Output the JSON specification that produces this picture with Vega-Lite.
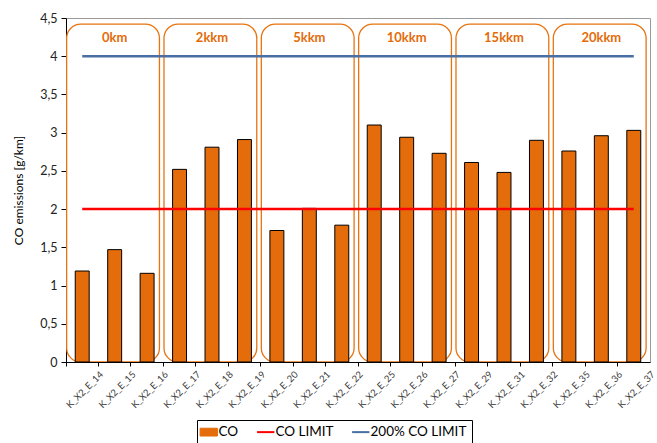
{
  "$schema": "https://vega.github.io/schema/vega-lite/v6.json",
  "width": 584,
  "height": 344,
  "autosize": {"type": "none"},
  "padding": {"left": 66, "top": 18, "right": 7, "bottom": 81},
  "background": "white",
  "config": {
    "font": "Lato",
    "view": {"stroke": "#9a9a9a", "strokeWidth": 1},
    "axis": {"labelFont": "Lato", "titleFont": "Lato"},
    "axisY": {"tickCount": 10},
    "legend": {"labelFont": "Lato"}
  },
  "datasets": {
    "co": [
      {"test": "K_X2_E_14", "co": 1.19, "series": "CO"},
      {"test": "K_X2_E_15", "co": 1.47, "series": "CO"},
      {"test": "K_X2_E_16", "co": 1.16, "series": "CO"},
      {"test": "K_X2_E_17", "co": 2.52, "series": "CO"},
      {"test": "K_X2_E_18", "co": 2.81, "series": "CO"},
      {"test": "K_X2_E_19", "co": 2.91, "series": "CO"},
      {"test": "K_X2_E_20", "co": 1.72, "series": "CO"},
      {"test": "K_X2_E_21", "co": 2.01, "series": "CO"},
      {"test": "K_X2_E_22", "co": 1.79, "series": "CO"},
      {"test": "K_X2_E_25", "co": 3.1, "series": "CO"},
      {"test": "K_X2_E_26", "co": 2.94, "series": "CO"},
      {"test": "K_X2_E_27", "co": 2.73, "series": "CO"},
      {"test": "K_X2_E_29", "co": 2.61, "series": "CO"},
      {"test": "K_X2_E_31", "co": 2.48, "series": "CO"},
      {"test": "K_X2_E_32", "co": 2.9, "series": "CO"},
      {"test": "K_X2_E_35", "co": 2.76, "series": "CO"},
      {"test": "K_X2_E_36", "co": 2.96, "series": "CO"},
      {"test": "K_X2_E_37", "co": 3.03, "series": "CO"}
    ],
    "limits": [
      {"series": "CO LIMIT", "value": 2, "from": "K_X2_E_14", "to": "K_X2_E_37"},
      {"series": "200% CO LIMIT", "value": 4, "from": "K_X2_E_14", "to": "K_X2_E_37"}
    ],
    "groups": [
      {"grp": "0km", "start": "K_X2_E_14", "mid": "K_X2_E_15", "end": "K_X2_E_16"},
      {"grp": "2kkm", "start": "K_X2_E_17", "mid": "K_X2_E_18", "end": "K_X2_E_19"},
      {"grp": "5kkm", "start": "K_X2_E_20", "mid": "K_X2_E_21", "end": "K_X2_E_22"},
      {"grp": "10kkm", "start": "K_X2_E_25", "mid": "K_X2_E_26", "end": "K_X2_E_27"},
      {"grp": "15kkm", "start": "K_X2_E_29", "mid": "K_X2_E_31", "end": "K_X2_E_32"},
      {"grp": "20kkm", "start": "K_X2_E_35", "mid": "K_X2_E_36", "end": "K_X2_E_37"}
    ]
  },
  "layer": [
    {
      "data": {"name": "groups"},
      "mark": {"type": "rect", "fillOpacity": 0, "stroke": "#E8730F", "strokeWidth": 1.3, "cornerRadius": 14},
      "encoding": {
        "x": {
          "field": "start", "type": "nominal", "bandPosition": 0.02,
          "scale": {"type": "band", "paddingInner": 0, "paddingOuter": 0},
          "axis": {
            "title": null, "labelAngle": -45, "labelFontSize": 9.5, "labelColor": "#404040",
            "bandPosition": 0, "labelOffset": 16, "tickSize": 4, "tickColor": "#000000",
            "domainColor": "#000000", "labelPadding": 3
          }
        },
        "x2": {"field": "end", "bandPosition": 0.88},
        "y": {
          "datum": 4.42, "type": "quantitative",
          "scale": {"domain": [0, 4.5], "nice": false, "zero": true},
          "axis": {
            "title": "CO emissions  [g/km]", "titleFontWeight": "normal", "titleFontSize": 12, "titleColor": "#000000",
            "values": [0, 0.5, 1, 1.5, 2, 2.5, 3, 3.5, 4, 4.5], "tickCount": 10,
            "labelExpr": "replace(datum.value + '', '.', ',')",
            "labelFontSize": 12.5, "labelColor": "#222222", "labelPadding": 4,
            "tickSize": 5, "tickColor": "#000000", "domainColor": "#000000",
            "gridColor": "#D9D9D9", "titlePadding": 14
          }
        },
        "y2": {"datum": 0}
      }
    },
    {
      "data": {"name": "groups"},
      "mark": {"type": "text", "color": "#E36C09", "fontWeight": "bold", "fontSize": 13, "baseline": "middle", "align": "center"},
      "encoding": {
        "x": {"field": "mid", "type": "nominal", "bandPosition": 0.5},
        "y": {"datum": 4.24, "type": "quantitative", "axis": {"values": [0, 0.5, 1, 1.5, 2, 2.5, 3, 3.5, 4, 4.5]}},
        "text": {"field": "grp"}
      }
    },
    {
      "data": {"name": "co"},
      "mark": {"type": "bar", "stroke": "#000000", "strokeWidth": 1, "width": {"band": 0.43}},
      "encoding": {
        "x": {"field": "test", "type": "nominal"},
        "y": {"field": "co", "type": "quantitative", "axis": {"values": [0, 0.5, 1, 1.5, 2, 2.5, 3, 3.5, 4, 4.5]}},
        "color": {
          "field": "series", "type": "nominal",
          "scale": {"domain": ["CO", "CO LIMIT", "200% CO LIMIT"], "range": ["#E46C0A", "#FF0000", "#4A6FA5"]},
          "legend": {
            "title": null, "orient": "none", "direction": "horizontal", "legendX": 131, "legendY": 402,
            "strokeColor": "#000000", "padding": 5, "labelFontSize": 13.5, "labelColor": "#000000",
            "symbolSize": 300, "labelOffset": 3, "columnPadding": 14,
            "encode": {
              "symbols": {
                "update": {
                  "shape": {"signal": "datum.value === 'CO' ? 'M-1,-0.45H1V0.45H-1Z' : 'M-1,0H1'"},
                  "fill": {"signal": "datum.value === 'CO' ? '#E46C0A' : 'transparent'"},
                  "stroke": {"signal": "datum.value === 'CO' ? '#000000' : (datum.value === 'CO LIMIT' ? '#FF0000' : '#4A6FA5')"},
                  "strokeWidth": {"signal": "datum.value === 'CO' ? 1 : 2"},
                  "opacity": {"value": 1}
                }
              }
            }
          }
        }
      }
    },
    {
      "data": {"name": "limits"},
      "mark": {"type": "rule", "strokeWidth": 2.5},
      "encoding": {
        "x": {"field": "from", "type": "nominal", "bandPosition": 0.5},
        "x2": {"field": "to", "bandPosition": 0.5},
        "y": {"field": "value", "type": "quantitative", "axis": {"values": [0, 0.5, 1, 1.5, 2, 2.5, 3, 3.5, 4, 4.5]}},
        "color": {
          "field": "series", "type": "nominal",
          "legend": {
            "title": null, "orient": "none", "direction": "horizontal", "legendX": 131, "legendY": 402,
            "strokeColor": "#000000", "padding": 5, "labelFontSize": 13.5, "labelColor": "#000000",
            "symbolSize": 300, "labelOffset": 3, "columnPadding": 14,
            "encode": {
              "symbols": {
                "update": {
                  "shape": {"signal": "datum.value === 'CO' ? 'M-1,-0.45H1V0.45H-1Z' : 'M-1,0H1'"},
                  "fill": {"signal": "datum.value === 'CO' ? '#E46C0A' : 'transparent'"},
                  "stroke": {"signal": "datum.value === 'CO' ? '#000000' : (datum.value === 'CO LIMIT' ? '#FF0000' : '#4A6FA5')"},
                  "strokeWidth": {"signal": "datum.value === 'CO' ? 1 : 2"},
                  "opacity": {"value": 1}
                }
              }
            }
          }
        }
      }
    }
  ]
}
